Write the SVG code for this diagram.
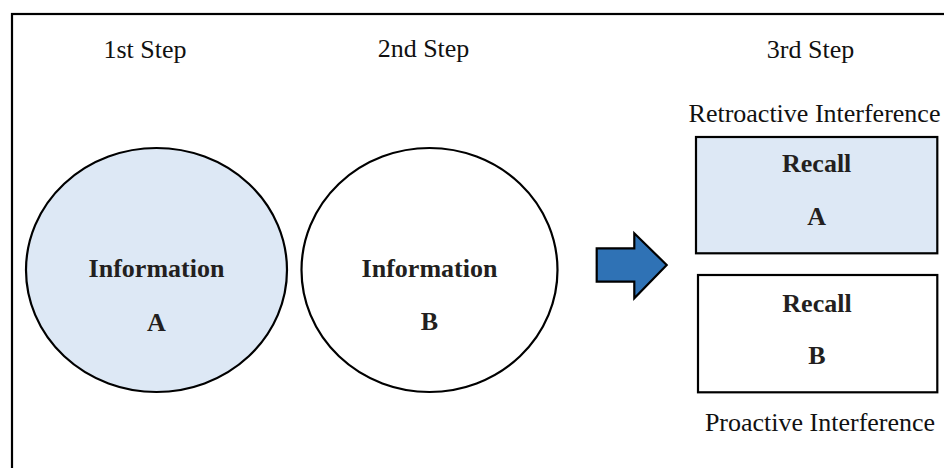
<svg xmlns="http://www.w3.org/2000/svg" width="944" height="468" viewBox="0 0 944 468">
  <style>
    .frame { fill: none; stroke: #000; stroke-width: 2.2; }
    .shape { stroke: #000; stroke-width: 2.2; }
    .blue { fill: #dde8f5; }
    .white { fill: #fff; }
    .lbl { font-family: "Liberation Serif", "Times New Roman", serif; font-size: 26px; fill: #111; text-anchor: middle; }
    .bold { font-family: "Liberation Serif", "Times New Roman", serif; font-size: 26px; font-weight: bold; fill: #231f20; text-anchor: middle; }
    .arrow { fill: #2f72b5; stroke: #000; stroke-width: 2.2; stroke-linejoin: miter; }
  </style>

  <rect width="944" height="468" fill="#fff"/>
  <!-- outer frame, runs off the right and bottom edges -->
  <rect class="frame" x="12" y="14" width="960" height="500"/>

  <!-- step headings -->
  <g id="headings">
    <text class="lbl" x="145" y="58">1st Step</text>
    <text class="lbl" x="423.5" y="57">2nd Step</text>
    <text class="lbl" x="810.5" y="58">3rd Step</text>
  </g>

  <g id="info-a">
    <ellipse class="shape blue" cx="156.5" cy="270" rx="130.5" ry="122"/>
    <text class="bold" x="156.5" y="277">Information</text>
    <text class="bold" x="156.5" y="331">A</text>
  </g>

  <g id="info-b">
    <ellipse class="shape white" cx="429.5" cy="270" rx="128" ry="122"/>
    <text class="bold" x="429.5" y="277">Information</text>
    <text class="bold" x="429.5" y="330">B</text>
  </g>

  <g id="connectors">
    <polygon class="arrow" points="596.7,248.3 634.3,248.3 634.3,233.3 666.7,265 634.3,298.3 634.3,281.7 596.7,281.7"/>
  </g>

  <g id="recall-a">
    <text class="lbl" x="814.5" y="122">Retroactive Interference</text>
    <rect class="shape blue" x="696" y="137" width="241.3" height="116.3"/>
    <text class="bold" x="816.7" y="172">Recall</text>
    <text class="bold" x="816.7" y="225">A</text>
  </g>

  <g id="recall-b">
    <rect class="shape white" x="698" y="275" width="239.3" height="117.3"/>
    <text class="bold" x="817" y="312">Recall</text>
    <text class="bold" x="817" y="364">B</text>
    <text class="lbl" x="820" y="431">Proactive Interference</text>
  </g>
</svg>
